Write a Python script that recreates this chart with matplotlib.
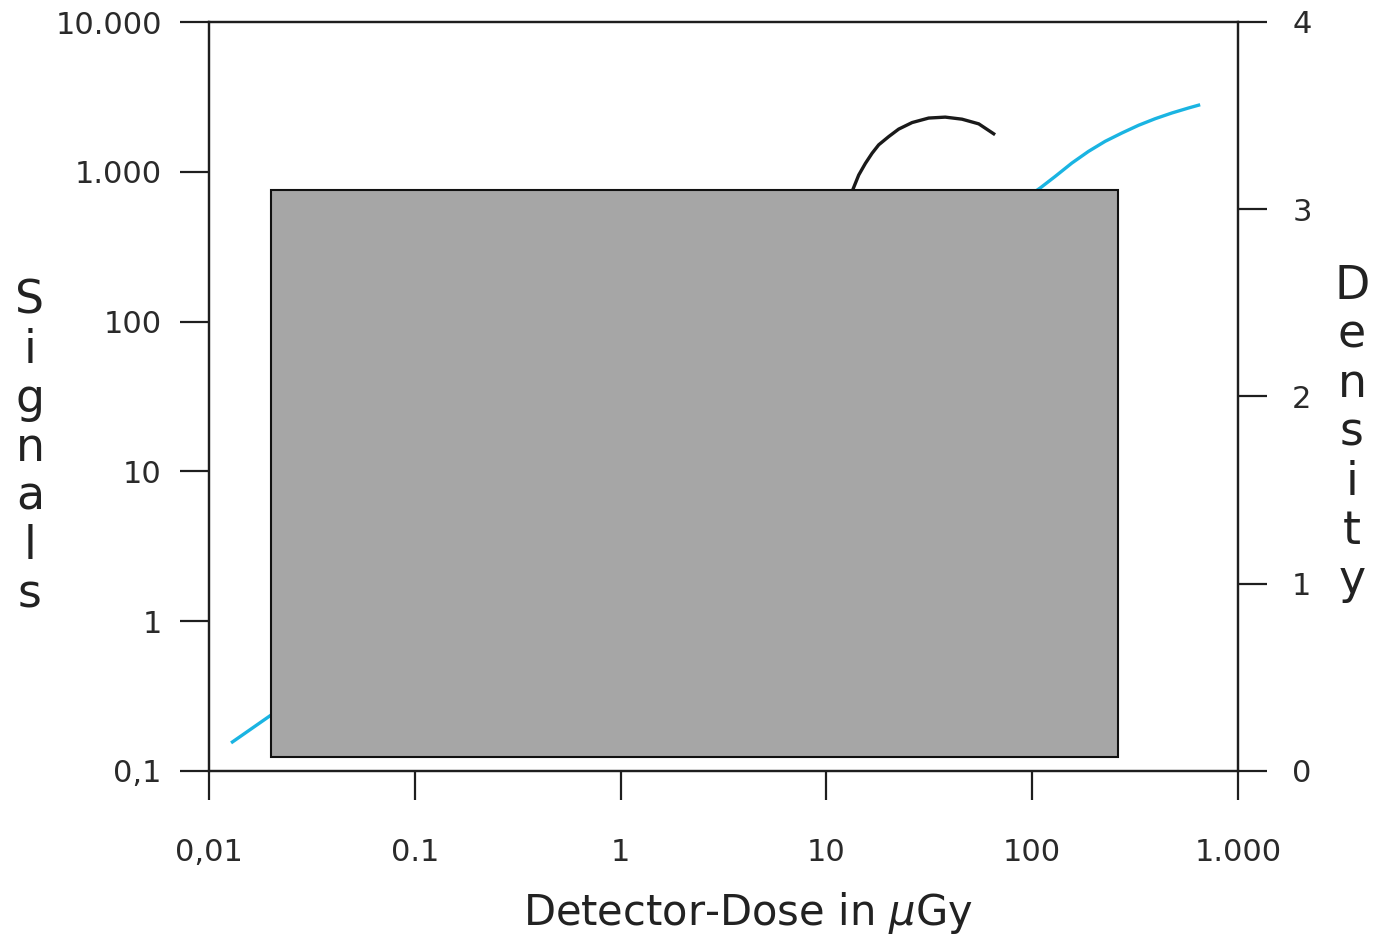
import matplotlib
matplotlib.use("Agg")
import matplotlib.pyplot as plt
from matplotlib.patches import Rectangle
from matplotlib.ticker import FixedLocator, FixedFormatter, NullLocator

# ---- data ----
signal_dose = [0.0128, 0.02, 0.1, 1.0, 10.0, 50.0, 109.4, 129.4, 155.9, 187.8,
               226.3, 272.9, 328.6, 396, 477, 575, 655]
signal_vals = [0.154, 0.236, 1.05, 9.0, 80.0, 370.0, 780, 932, 1144, 1369,
               1598, 1816, 2044, 2262, 2469, 2667, 2804]

density_dose = [11.5, 13.42, 14.36, 15.47, 16.67, 17.95, 20.08, 22.45, 26.09,
                31.4, 37.8, 45.6, 55.0, 65.0]
density_vals = [2.75, 3.103, 3.183, 3.245, 3.299, 3.344, 3.388, 3.428, 3.463,
                3.487, 3.492, 3.481, 3.456, 3.403]

x_ticks = [0.01, 0.1, 1, 10, 100, 1000]
x_labels = ["0,01", "0.1", "1", "10", "100", "1.000"]
y_ticks = [0.1, 1, 10, 100, 1000, 10000]
y_labels = ["0,1", "1", "10", "100", "1.000", "10.000"]
d_ticks = [0, 1, 2, 3, 4]
d_labels = ["0", "1", "2", "3", "4"]

W, H = 1373, 939
fig = plt.figure(figsize=(W / 100, H / 100), dpi=100)
plt.rcParams['font.family'] = ['DejaVu Sans']

ax = fig.add_axes([209 / W, 1 - 771 / H, (1238 - 209) / W, (771 - 22) / H])
ax.set_xscale('log')
ax.set_yscale('log')
ax.set_xlim(0.01, 1000)
ax.set_ylim(0.1, 10000)

ink = '#1e1e1e'
lw = 1.6
for s in ax.spines.values():
    s.set_linewidth(lw)
    s.set_color(ink)

ax.xaxis.set_major_locator(FixedLocator(x_ticks))
ax.xaxis.set_major_formatter(FixedFormatter(x_labels))
ax.xaxis.set_minor_locator(NullLocator())
ax.yaxis.set_major_locator(FixedLocator(y_ticks))
ax.yaxis.set_major_formatter(FixedFormatter(y_labels))
ax.yaxis.set_minor_locator(NullLocator())
ax.tick_params(axis='x', direction='out', length=21, width=lw, color=ink,
               labelsize=22, labelcolor='#2a2a2a', pad=27)
ax.tick_params(axis='y', direction='out', length=21, width=lw, color=ink,
               labelsize=22, labelcolor='#2a2a2a', pad=13)

ax.plot(signal_dose, signal_vals, color='#1ab4e2', lw=2.4, solid_capstyle='butt')

ax2 = ax.twinx()
ax2.set_ylim(0, 4)
for s in ax2.spines.values():
    s.set_linewidth(lw)
    s.set_color(ink)
ax2.yaxis.set_major_locator(FixedLocator(d_ticks))
ax2.yaxis.set_major_formatter(FixedFormatter(d_labels))
ax2.yaxis.set_minor_locator(NullLocator())
ax2.tick_params(axis='y', direction='out', length=21, width=lw, color=ink,
                labelsize=22, labelcolor='#2a2a2a', pad=18)
ax2.plot(density_dose, density_vals, color='#1a1a1a', lw=2.4,
         solid_joinstyle='round')

# occluding gray box
rect = Rectangle((271 / W, 1 - 757 / H), (1118 - 271) / W, (757 - 190) / H,
                 transform=fig.transFigure, facecolor='#a6a6a6',
                 edgecolor='#111111', lw=1.5, zorder=10)
fig.add_artist(rect)

# x label
fig.text(748 / W, 1 - 925 / H, "Detector-Dose in $\\mu$Gy", ha='center',
         va='baseline', fontsize=30, color='#222222')

# vertical stacked labels
for i, ch in enumerate("Signals"):
    fig.text(30 / W, 1 - (314 + 49 * i) / H, ch, ha='center', va='baseline',
             fontsize=33, color='#222222')
for i, ch in enumerate("Density"):
    fig.text(1352 / W, 1 - (299 + 49 * i) / H, ch, ha='center', va='baseline',
             fontsize=33, color='#222222')

fig.savefig("out.png", dpi=100)
